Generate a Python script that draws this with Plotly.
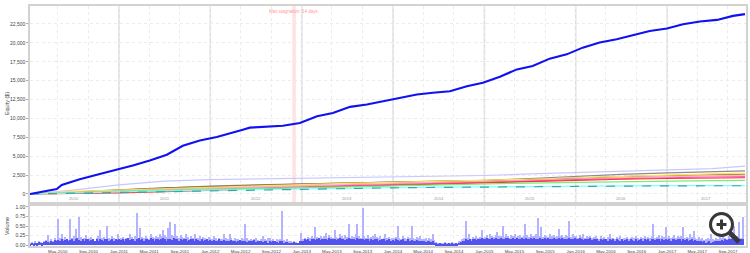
import plotly.graph_objects as go
import pandas as pd

# ---------------- main equity curve ----------------
eq_dates = ["2010-01-10", "2010-02-19", "2010-04-27", "2010-05-17", "2010-07-28", "2010-10-16",
            "2010-12-23", "2011-02-25", "2011-05-04", "2011-07-11", "2011-09-13", "2011-11-20",
            "2012-01-27", "2012-03-30", "2012-05-10", "2012-06-07", "2012-10-17", "2012-12-24",
            "2013-03-03", "2013-05-05", "2013-07-13", "2013-09-18", "2013-11-21", "2014-01-28",
            "2014-04-06", "2014-06-09", "2014-08-16", "2014-10-23", "2014-12-26", "2015-03-04",
            "2015-05-11", "2015-07-13", "2015-09-19", "2015-11-26", "2016-01-29", "2016-04-06",
            "2016-06-13", "2016-08-16", "2016-10-23", "2016-12-31", "2017-03-05", "2017-05-12",
            "2017-07-19", "2017-09-21", "2017-11-08"]
eq_values = [0, 230, 660, 1200, 1950, 2650,
             3200, 3770, 4430, 5190, 6380, 7090,
             7540, 8070, 8510, 8780, 9040, 9400,
             10280, 10730, 11530, 11840, 12270, 12730,
             13160, 13390, 13600, 14270, 14720, 15520,
             16490, 16930, 17910, 18480, 19370, 20040,
             20480, 21010, 21580, 21900, 22470, 22830,
             23040, 23570, 23800]

# ---------------- small component curves ----------------
sub_dates = ["2010-01-10", "2010-07-01", "2011-01-01", "2011-07-01", "2012-01-01", "2012-07-01",
             "2013-01-01", "2013-07-01", "2014-01-01", "2014-07-01", "2015-01-01", "2015-07-01",
             "2016-01-01", "2016-07-01", "2017-01-01", "2017-07-01", "2017-11-08"]
lavender_vals = [0, 500, 1200, 1700, 1900, 2000, 2100, 2200, 2300, 2350, 2450, 2650, 2850, 3000, 3150, 3350, 3700]
gray_vals = [0, 250, 600, 850, 1050, 1200, 1350, 1480, 1580, 1650, 1800, 2050, 2350, 2600, 2800, 2950, 3050]
olive_vals = [0, 300, 550, 800, 1000, 1150, 1300, 1450, 1600, 1700, 1780, 1900, 2100, 2300, 2450, 2550, 2600]
yellow_vals = [0, 350, 500, 700, 900, 1100, 1250, 1400, 1550, 1650, 1750, 1950, 2150, 2350, 2500, 2650, 2750]
salmon_vals = [0, 150, 400, 600, 800, 950, 1100, 1250, 1400, 1500, 1600, 1800, 2000, 2150, 2300, 2400, 2500]
pink_vals = [0, 100, 250, 450, 650, 800, 950, 1100, 1250, 1400, 1500, 1700, 1900, 2050, 2150, 2250, 2300]
red_vals = [0, 50, 150, 300, 500, 700, 850, 1000, 1150, 1300, 1450, 1650, 1850, 1950, 2050, 2100, 2150]
green_vals = [0, 200, 350, 500, 650, 750, 850, 950, 1100, 1250, 1350, 1450, 1550, 1650, 1700, 1780, 1800]
cyan_vals = [0, 150, 300, 400, 500, 600, 700, 800, 850, 900, 950, 1000, 1050, 1080, 1100, 1100, 1100]
teal_vals = [0, 100, 250, 350, 450, 550, 650, 750, 820, 870, 930, 980, 1030, 1060, 1080, 1090, 1090]

# ---------------- weekly volume (light = peaks, dark = base) ----------------
peak_2010 = [.06,.08,.05,.10,.07,.12,.09,.06,.11,.14,.26,.12,.15,.10,.18,.13,.69,.20,.30,.15,.22,.17,.14,.69,.20,.25,
             .43,.18,.73,.22,.15,.20,.26,.14,.18,.21,.16,.12,.20,.24,.39,.18,.22,.15,.49,.20,.17,.25,.19,.14,.30,.16]
peak_2011 = [.18,.22,.15,.20,.17,.30,.21,.16,.24,.84,.19,.46,.22,.18,.25,.20,.16,.30,.22,.19,.24,.21,.28,.23,.40,.26,
             .22,.45,.60,.27,.24,.54,.23,.20,.26,.22,.18,.30,.21,.17,.23,.19,.28,.20,.18,.25,.16,.21,.19,.15,.22,.18]
peak_2012 = [.16,.25,.18,.14,.20,.17,.15,.30,.19,.16,.28,.18,.14,.20,.15,.17,.13,.19,.16,.54,.18,.14,.17,.13,.16,.19,
             .14,.12,.17,.25,.15,.13,.18,.20,.14,.16,.12,.15,.13,.17,.88,.14,.11,.15,.12,.10,.08,.12,.09,.07,.10,.33]
peak_2013 = [.15,.20,.17,.22,.18,.24,.19,.47,.21,.18,.25,.20,.23,.33,.19,.26,.21,.18,.39,.22,.20,.30,.24,.19,.27,.22,
             .54,.20,.25,.21,.28,.56,.23,.19,.96,.24,.20,.26,.18,.22,.25,.30,.21,.19,.23,.17,.20,.30,.18,.22,.16,.19]
peak_2014 = [.18,.22,.49,.20,.17,.23,.19,.16,.21,.18,.49,.20,.16,.22,.18,.25,.17,.15,.20,.14,.18,.16,.30,.14,.08,.06,
             .07,.05,.06,.08,.05,.07,.06,.09,.05,.07,.06,.10,.12,.15,.18,.64,.20,.30,.17,.22,.19,.25,.18,.21,.39,.20]
peak_2015 = [.22,.26,.20,.30,.24,.21,.27,.35,.23,.25,.50,.22,.28,.24,.20,.26,.23,.29,.21,.25,.27,.22,.24,.56,.26,.21,
             .28,.23,.25,.30,.71,.24,.47,.22,.27,.25,.21,.29,.24,.26,.22,.25,.43,.23,.27,.21,.26,.24,.64,.22,.28,.25]
peak_2016 = [.24,.20,.26,.22,.30,.19,.23,.21,.25,.18,.22,.25,.20,.17,.23,.19,.21,.16,.22,.30,.18,.20,.17,.21,.19,.25,
             .16,.20,.18,.22,.17,.19,.21,.18,.23,.20,.16,.22,.19,.24,.18,.21,.20,.23,.54,.19,.22,.26,.20,.24,.21,.47]
peak_2017 = [.20,.24,.18,.22,.26,.19,.23,.21,.25,.47,.20,.22,.18,.30,.21,.37,.19,.17,.22,.15,.18,.14,.16,.20,.15,.30,
             .17,.14,.19,.16,.21,.18,.39,.20,.17,.23,.19,.22,.49,.21,.24,.60,.20,.73]

base_2010 = [.04,.06,.03,.07,.05,.08,.06,.05,.08,.10,.09,.07,.11,.09,.13,.10,.14,.11,.15,.10,.13,.16,.11,.14,.17,.12,
             .15,.18,.14,.11,.16,.12,.15,.17,.11,.14,.16,.12,.15,.11,.17,.14,.12,.16,.15,.11,.14,.17,.12,.15,.14,.16]
base_2011 = [.14,.16,.12,.15,.18,.14,.16,.17,.12,.15,.19,.14,.16,.12,.17,.15,.14,.18,.16,.12,.15,.17,.14,.16,.18,.15,
             .12,.17,.16,.14,.18,.15,.16,.12,.17,.14,.15,.16,.12,.14,.17,.15,.11,.16,.14,.12,.15,.11,.14,.16,.12,.14]
base_2012 = [.11,.14,.10,.12,.15,.11,.12,.14,.10,.12,.11,.14,.10,.12,.09,.11,.14,.10,.12,.11,.09,.12,.10,.11,.14,.09,
             .11,.10,.12,.09,.11,.10,.07,.11,.09,.10,.12,.09,.07,.10,.11,.07,.08,.09,.07,.06,.07,.08,.06,.07,.10,.11]
base_2013 = [.12,.15,.14,.16,.12,.17,.15,.14,.16,.18,.14,.15,.17,.16,.14,.18,.15,.16,.17,.14,.16,.18,.15,.17,.14,.16,
             .19,.15,.17,.16,.14,.18,.16,.15,.17,.14,.16,.15,.12,.16,.14,.15,.17,.12,.14,.16,.15,.12,.14,.16,.11,.14]
base_2014 = [.12,.15,.14,.11,.14,.16,.12,.11,.15,.12,.14,.11,.10,.14,.12,.11,.10,.12,.08,.11,.10,.08,.11,.07,.05,.04,
             .05,.04,.04,.05,.04,.05,.04,.05,.04,.05,.04,.07,.08,.11,.12,.15,.14,.16,.12,.15,.17,.14,.16,.15,.18,.16]
base_2015 = [.16,.18,.15,.17,.19,.16,.18,.17,.15,.19,.17,.16,.18,.20,.16,.17,.19,.15,.18,.16,.17,.19,.16,.18,.17,.15,
             .18,.16,.19,.17,.16,.18,.15,.17,.19,.16,.18,.17,.15,.18,.16,.17,.19,.16,.18,.15,.17,.16,.18,.16,.17,.19]
base_2016 = [.17,.15,.18,.16,.14,.17,.15,.16,.18,.14,.16,.15,.17,.12,.16,.14,.15,.17,.12,.16,.14,.15,.11,.16,.14,.12,
             .15,.11,.14,.16,.12,.15,.14,.11,.15,.12,.14,.16,.12,.15,.14,.16,.12,.15,.17,.14,.16,.15,.12,.16,.14,.17]
base_2017 = [.14,.16,.12,.15,.17,.14,.16,.15,.12,.16,.14,.15,.12,.14,.16,.11,.14,.12,.10,.11,.08,.10,.07,.08,.10,.07,
             .08,.11,.10,.12,.11,.14,.12,.15,.14,.16,.15,.17,.14,.16,.18,.15,.17,.16]

year_labels = ["2010", "2011", "2012", "2013", "2014", "2015", "2016", "2017"]
year_label_dates = ["2010-07-06", "2011-07-02", "2012-07-02", "2013-07-02", "2014-07-02",
                    "2015-07-02", "2016-07-02", "2017-06-05"]
year_starts = ["2011-01-01", "2012-01-01", "2013-01-01", "2014-01-01", "2015-01-01", "2016-01-01", "2017-01-01"]
stag_start, stag_end = "2012-11-24", "2012-12-08"
stag_text = "Max stagnation: 14 days"

X_RANGE = ["2010-01-10", "2017-11-12"]

# ---------------- build figure ----------------
fig = go.Figure()

peaks = [peak_2010, peak_2011, peak_2012, peak_2013, peak_2014, peak_2015, peak_2016, peak_2017]
bases = [base_2010, base_2011, base_2012, base_2013, base_2014, base_2015, base_2016, base_2017]
px_list, py_list, bx_list, by_list = [], [], [], []
start = pd.Timestamp("2010-01-11")
for k, (pk, bs) in enumerate(zip(peaks, bases)):
    s = start + pd.Timedelta(days=364 * k)
    px_list += list(pd.date_range(s, periods=len(pk), freq="7D"))
    py_list += pk
    bx_list += list(pd.date_range(s, periods=len(bs), freq="7D"))
    by_list += bs

DAY = 86400000
fig.add_trace(go.Bar(x=px_list, y=py_list, width=5.5 * DAY, marker=dict(color="#b3b3ff", line_width=0),
                     xaxis="x2", yaxis="y2", showlegend=False, hoverinfo="skip"))
fig.add_trace(go.Bar(x=bx_list, y=by_list, width=5 * DAY, marker=dict(color="#5252ee", line_width=0),
                     xaxis="x2", yaxis="y2", showlegend=False, hoverinfo="skip"))

subs = [
    (lavender_vals, "#c8c8ff", "solid"),
    (gray_vals, "#8c8c8c", "solid"),
    (olive_vals, "#8b7a2a", "solid"),
    (yellow_vals, "#ffe066", "solid"),
    (salmon_vals, "#ffb3b3", "solid"),
    (pink_vals, "#ff55cc", "solid"),
    (red_vals, "#ff3333", "solid"),
    (green_vals, "#77ee77", "solid"),
    (cyan_vals, "#80ffff", "solid"),
    (teal_vals, "#33aaaa", "dash"),
]
for vals, col, dash in subs:
    fig.add_trace(go.Scatter(x=sub_dates, y=vals, mode="lines", line=dict(color=col, width=1.2, dash=dash),
                             showlegend=False, hoverinfo="skip"))

fig.add_trace(go.Scatter(x=eq_dates, y=eq_values, mode="lines", line=dict(color="#1010f0", width=2.1),
                         showlegend=False, hoverinfo="skip"))

TICKFONT = dict(family="Liberation Sans, Arial, sans-serif", size=5.0, color="#444")
shapes = []
shapes.append(dict(type="rect", xref="x", yref="y domain", x0=stag_start, x1=stag_end, y0=0, y1=1,
                   fillcolor="rgba(255,170,170,0.35)", line_width=0, layer="below"))
for d in year_starts:
    shapes.append(dict(type="line", xref="x", yref="y domain", x0=d, x1=d, y0=0, y1=1,
                       line=dict(color="#dedede", width=1.6), layer="below"))

L, R, T, B = 30, 4, 6, 7
PW, PH = 750 - L - R, 253 - T - B
def px(xp): return (xp - L) / PW
def py(yp): return (253 - B - yp) / PH
shapes.append(dict(type="line", xref="paper", yref="paper", x0=px(729), y0=py(232), x1=px(739), y1=py(242),
                   line=dict(color="#383838", width=5)))
shapes.append(dict(type="circle", xref="paper", yref="paper", x0=px(710.5), x1=px(732.5), y0=py(235.5), y1=py(213.5),
                   line=dict(color="#383838", width=3), fillcolor="white"))
shapes.append(dict(type="line", xref="paper", yref="paper", x0=px(716.5), x1=px(726.5), y0=py(224.5), y1=py(224.5),
                   line=dict(color="#383838", width=3)))
shapes.append(dict(type="line", xref="paper", yref="paper", x0=px(721.5), x1=px(721.5), y0=py(219.5), y1=py(229.5),
                   line=dict(color="#383838", width=3)))

annotations = []
for lab, d in zip(year_labels, year_label_dates):
    annotations.append(dict(x=d, y=-640, xref="x", yref="y", text=lab, showarrow=False,
                            font=dict(family="Liberation Sans, Arial", size=4.2, color="#999")))
annotations.append(dict(x="2012-12-01", y=1, xref="x", yref="paper", yanchor="top", text=stag_text,
                        showarrow=False, yshift=-1,
                        font=dict(family="Liberation Sans, Arial", size=4.5, color="#ff9a9a")))
annotations.append(dict(x=px(7), y=py(104), xref="paper", yref="paper", xanchor="center", yanchor="middle",
                        text="Equity ($)", textangle=-90,
                        showarrow=False, font=dict(family="Liberation Sans, Arial", size=5.4, color="#444")))
annotations.append(dict(x=px(7), y=py(226), xref="paper", yref="paper", xanchor="center", yanchor="middle",
                        text="Volume", textangle=-90,
                        showarrow=False, font=dict(family="Liberation Sans, Arial", size=5.4, color="#444")))

top_dom = [(246 - 202) / PH, 1]
bot_dom = [0, (246 - 206) / PH]

fig.update_layout(
    width=750, height=253,
    margin=dict(l=L, r=R, t=T, b=B, autoexpand=False),
    paper_bgcolor="white", plot_bgcolor="white",
    barmode="overlay", bargap=0,
    shapes=shapes, annotations=annotations,
    xaxis=dict(domain=[0, 1], range=X_RANGE, type="date", anchor="y", automargin=False,
               showticklabels=False, dtick="M4", tick0="2010-01-01",
               showgrid=True, gridcolor="#ececec", griddash="dot", gridwidth=1,
               showline=True, mirror=True, linecolor="#d2d2d2", linewidth=1.5, zeroline=False),
    yaxis=dict(domain=top_dom, range=[-1060, 24880], anchor="x", automargin=False,
               tickvals=[0, 2500, 5000, 7500, 10000, 12500, 15000, 17500, 20000, 22500],
               tickformat=",d", tickfont=TICKFONT, ticks="outside", ticklen=2, tickcolor="#aaa",
               showgrid=True, gridcolor="#ececec", griddash="dot", gridwidth=1,
               showline=True, mirror=True, linecolor="#d2d2d2", linewidth=1.5, zeroline=False),
    xaxis2=dict(domain=[0, 1], range=X_RANGE, type="date", anchor="y2", matches="x", automargin=False,
                dtick="M4", tick0="2010-01-01", tickformat="%b-%Y", tickfont=dict(TICKFONT, size=4.4),
                ticks="", ticklen=0,
                showgrid=True, gridcolor="#ececec", griddash="dot", gridwidth=1,
                showline=True, mirror=True, linecolor="#d2d2d2", linewidth=1.5, zeroline=False),
    yaxis2=dict(domain=bot_dom, range=[-0.02, 1.02], anchor="x2", automargin=False,
                tickvals=[0, 0.25, 0.5, 0.75, 1.0], tickformat=".2f", tickfont=TICKFONT,
                ticks="outside", ticklen=2, tickcolor="#aaa",
                showgrid=True, gridcolor="#ececec", griddash="dot", gridwidth=1,
                showline=True, mirror=True, linecolor="#d2d2d2", linewidth=1.5, zeroline=False),
)

fig.write_html("out.html")
